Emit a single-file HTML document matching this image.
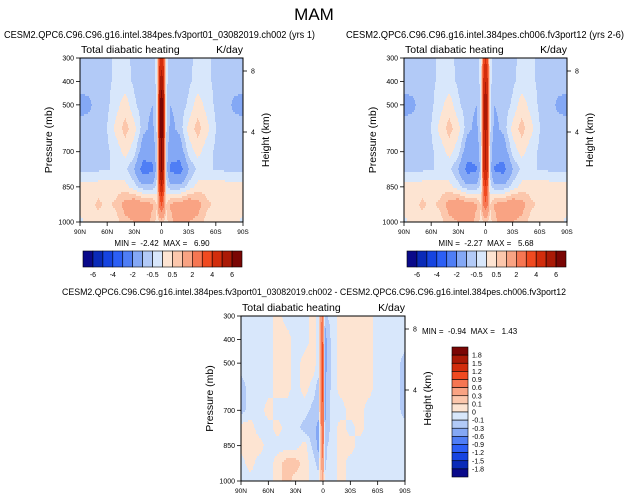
<!DOCTYPE html>
<html><head><meta charset="utf-8"><style>
html,body{margin:0;padding:0;background:#fff}
svg{display:block;font-family:"Liberation Sans",Arial,sans-serif}
</style></head><body>
<svg id="chart" width="628" height="500" viewBox="0 0 628 500" xmlns="http://www.w3.org/2000/svg">
<text x="314" y="20" font-size="17" text-anchor="middle">MAM</text>
</svg>
<script>
const lats=[90,80,70,60,50,40,30,20,10,5,2,0,-2,-5,-10,-20,-30,-40,-50,-60,-70,-80,-90];
const pres=[300,400,500,600,700,775,850,925,1000];
const levelsA=[-6,-5,-4,-3,-2,-1,-0.5,0,0.5,1,2,3,4,5,6];
const levelsB=[-1.8,-1.5,-1.2,-0.9,-0.6,-0.3,-0.1,0,0.1,0.3,0.6,0.9,1.2,1.5,1.8];
const labelsA=["-6","-4","-2","-0.5","0.5","2","4","6"];
const labelsB=["1.8","1.5","1.2","0.9","0.6","0.3","0.1","0","-0.1","-0.3","-0.6","-0.9","-1.2","-1.5","-1.8"];
const colors=["#0a0a8a","#0a2bb8","#1644e0","#2c5ff5","#4f7ef5","#84a8f5","#b2caf7","#d8e7fb","#fde4d2","#fcc7ac","#f9a383","#f67652","#f04a20","#d22d0c","#aa1a06","#7a0604"];
const fieldA=[
[-0.7,-0.7,-0.7,-0.6,-0.4,-0.4,-0.6,-0.7,-0.8,-0.3,4,4.5,4,-0.3,-0.8,-0.7,-0.6,-0.4,-0.4,-0.6,-0.7,-0.7,-0.7],
[-0.8,-0.8,-0.7,-0.6,-0.4,-0.3,-0.6,-0.8,-0.9,-0.3,5,5.5,5,-0.3,-0.9,-0.8,-0.6,-0.3,-0.4,-0.6,-0.7,-0.8,-0.8],
[-1.2,-1.1,-0.8,-0.6,-0.2,0.3,-0.4,-0.8,-1,-0.3,6,6.8,6,-0.3,-1,-0.8,-0.4,0.3,-0.2,-0.6,-0.8,-1.1,-1.2],
[-0.8,-0.8,-0.7,-0.5,0.2,0.7,0.2,-0.8,-1.2,-0.4,5.8,6.5,5.8,-0.4,-1.2,-0.8,0.2,0.7,0.2,-0.5,-0.7,-0.8,-0.8],
[-0.7,-0.7,-0.7,-0.6,-0.3,0.2,-0.3,-1.5,-1.6,-0.5,5.5,6.2,5.5,-0.5,-1.6,-1.5,-0.3,0.2,-0.3,-0.6,-0.7,-0.7,-0.7],
[-0.6,-0.6,-0.6,-0.5,-0.5,-0.4,-1,-2.5,-2.2,-0.6,5.5,6.2,5.5,-0.6,-2.2,-2.5,-1,-0.4,-0.5,-0.5,-0.6,-0.6,-0.6],
[0.3,0.3,0.3,0.3,0.3,0.2,-0.3,-0.8,-0.8,-0.3,4,5,4,-0.3,-0.8,-0.8,-0.3,0.2,0.3,0.3,0.3,0.3,0.3],
[0.3,0.3,0.6,0.4,0.6,1.3,1.6,1.3,1.1,0.5,2.5,3.2,2.5,0.5,1.1,1.3,1.6,1.3,0.6,0.4,0.3,0.3,0.3],
[-0.2,0.3,0.3,0.3,0.3,0.8,1,1.5,0.8,0.3,0.5,0.6,0.5,0.3,0.8,1.5,1,0.8,0.3,0.3,0.3,0.3,-0.2]];
const fieldB=[
[-0.7,-0.7,-0.7,-0.6,-0.4,-0.4,-0.6,-0.7,-0.8,-0.3,3.5,4,3.5,-0.3,-0.8,-0.7,-0.6,-0.4,-0.4,-0.6,-0.7,-0.7,-0.7],
[-0.8,-0.8,-0.7,-0.6,-0.4,-0.3,-0.6,-0.8,-0.9,-0.3,4.5,5,4.5,-0.3,-0.9,-0.8,-0.6,-0.3,-0.4,-0.6,-0.7,-0.8,-0.8],
[-1.2,-1.1,-0.8,-0.6,-0.2,0.3,-0.4,-0.8,-1,-0.3,5,5.6,5,-0.3,-1,-0.8,-0.4,0.3,-0.2,-0.6,-0.8,-1.1,-1.2],
[-0.8,-0.8,-0.7,-0.5,0.2,0.7,0.2,-0.8,-1.2,-0.4,4.8,5.3,4.8,-0.4,-1.2,-0.8,0.2,0.7,0.2,-0.5,-0.7,-0.8,-0.8],
[-0.7,-0.7,-0.7,-0.6,-0.3,0.2,-0.3,-1.5,-1.6,-0.5,4.5,5.1,4.5,-0.5,-1.6,-1.5,-0.3,0.2,-0.3,-0.6,-0.7,-0.7,-0.7],
[-0.6,-0.6,-0.6,-0.5,-0.5,-0.4,-1,-2.4,-2.1,-0.6,4.5,5.1,4.5,-0.6,-2.1,-2.4,-1,-0.4,-0.5,-0.5,-0.6,-0.6,-0.6],
[0.3,0.3,0.3,0.3,0.3,0.2,-0.3,-0.8,-0.8,-0.3,3.2,4,3.2,-0.3,-0.8,-0.8,-0.3,0.2,0.3,0.3,0.3,0.3,0.3],
[0.3,0.3,0.6,0.4,0.6,1.3,1.6,1.3,1.1,0.5,2.2,2.8,2.2,0.5,1.1,1.3,1.6,1.3,0.6,0.4,0.3,0.3,0.3],
[-0.2,0.3,0.3,0.3,0.3,0.8,1,1.5,0.8,0.3,0.5,0.6,0.5,0.3,0.8,1.5,1,0.8,0.3,0.3,0.3,0.3,-0.2]];
const fieldC=[
[-0.05,-0.05,-0.05,-0.05,0.05,-0.05,-0.05,-0.05,0.05,-0.05,0.5,0.9,-0.2,-0.1,-0.05,0.05,0.05,0.05,0.05,-0.05,-0.05,-0.05,-0.05],
[-0.05,-0.05,-0.05,-0.05,0.05,0.05,-0.05,-0.05,0.05,-0.05,0.6,1.0,-0.5,-0.2,-0.05,0.05,0.05,0.05,0.05,-0.05,-0.05,-0.05,-0.05],
[-0.05,-0.05,-0.05,-0.05,0.05,0.05,-0.05,0.05,0.05,-0.05,0.7,1.1,-0.5,-0.2,-0.05,0.05,0.05,0.05,0.05,-0.05,-0.05,-0.05,-0.15],
[-0.15,-0.05,-0.05,-0.05,0.05,0.05,-0.05,0.05,-0.05,-0.15,0.7,1.0,-0.4,-0.2,-0.05,0.05,0.05,0.05,0.05,-0.05,-0.05,-0.05,-0.15],
[-0.15,-0.05,-0.05,0.05,-0.05,-0.05,-0.05,-0.05,-0.15,-0.2,0.6,1.0,-0.4,-0.15,-0.05,-0.05,0.05,0.05,-0.05,-0.05,-0.05,-0.05,-0.15],
[0.05,0.05,-0.05,-0.05,0.05,-0.05,-0.05,-0.15,-0.2,-0.4,0.5,1.0,-0.3,-0.15,-0.05,0.05,-0.05,0.05,-0.05,-0.05,-0.05,-0.05,-0.05],
[0.05,0.05,0.05,-0.05,-0.05,-0.05,-0.05,0.05,-0.15,-0.4,0.5,0.9,-0.2,-0.1,-0.05,0.05,0.05,-0.05,-0.05,-0.05,-0.05,-0.05,-0.05],
[-0.05,0.05,-0.05,-0.05,0.05,0.15,0.15,0.05,-0.05,-0.15,0.3,0.6,-0.15,-0.05,-0.05,0.05,-0.05,-0.05,-0.05,-0.05,-0.05,-0.05,-0.05],
[-0.05,-0.05,-0.05,-0.05,0.05,0.15,0.05,0.05,-0.05,-0.05,0.2,0.3,-0.05,-0.05,-0.05,0.05,-0.05,-0.05,-0.05,-0.05,-0.05,-0.05,-0.05]];

const svg=document.getElementById('chart');
const NS='http://www.w3.org/2000/svg';
function mk(tag,attrs,parent){const e=document.createElementNS(NS,tag);for(const k in attrs)e.setAttribute(k,attrs[k]);(parent||svg).appendChild(e);return e;}
function txt(x,y,s,size,anchor,parent){const t=mk('text',{x:x,y:y,'font-size':size,'text-anchor':anchor||'start'},parent);t.textContent=s;t.setAttribute('xml:space','preserve');t.style.whiteSpace='pre';return t;}
function colorFor(v,levels){let i=0;while(i<levels.length&&v>=levels[i])i++;return colors[i];}
function locate(arr,v,desc){for(let i=0;i<arr.length-1;i++){const a=arr[i],b=arr[i+1];if(desc?(v<=a&&v>=b):(v>=a&&v<=b))return [i,(v-a)/(b-a)];}return [arr.length-2,1];}
function sample(field,lat,p){const [i,fx]=locate(lats,lat,true);const [j,fy]=locate(pres,p,false);
  const a=field[j][i],b=field[j][i+1],c=field[j+1][i],d=field[j+1][i+1];
  return (a*(1-fx)+b*fx)*(1-fy)+(c*(1-fx)+d*fx)*fy;}

function panel(name,x0,y0,w,h,field,levels){
  const g=mk('g',{});
  
  
  const xs=lat=>x0+(90-lat)/180*w;
  const ys=p=>y0+(p-300)/700*h;
  const xinv=x=>90-(x-x0)/w*180;
  const yinv=y=>300+(y-y0)/h*700;
  const sx=1,sy=2;
  for(let y=y0;y<y0+h;y+=sy){
    let runStart=x0,runColor=null;
    for(let x=x0;x<=x0+w;x+=sx){
      const c=x<x0+w?colorFor(sample(field,xinv(x+sx/2),yinv(y+sy/2)),levels):null;
      if(c!==runColor){
        if(runColor){const r=mk('rect',{x:runStart,y:y,width:x-runStart+0.3,height:Math.min(sy,y0+h-y)+0.3,fill:runColor},g);
          
          }
        runStart=x;runColor=c;
      }
    }
  }
  mk('rect',{x:x0,y:y0,width:w,height:h,fill:'none',stroke:'#000','stroke-width':1},g);
  [[300,'300'],[400,'400'],[500,'500'],[700,'700'],[850,'850'],[1000,'1000']].forEach(([p,l])=>{
    mk('line',{x1:x0-4,x2:x0,y1:ys(p),y2:ys(p),stroke:'#000','stroke-width':0.8},g);
    txt(x0-6,ys(p)+2.5,l,7,'end',g);
  });
  [[90,'90N'],[60,'60N'],[30,'30N'],[0,'0'],[-30,'30S'],[-60,'60S'],[-90,'90S']].forEach(([l,s])=>{
    mk('line',{x1:xs(l),x2:xs(l),y1:y0+h,y2:y0+h+4,stroke:'#000','stroke-width':0.8},g);
    txt(xs(l),y0+h+12,s,6.5,'middle',g);
  });
  [[8,y0+13],[4,y0+74]].forEach(([k,y])=>{
    mk('line',{x1:x0+w,x2:x0+w+4,y1:y,y2:y,stroke:'#000','stroke-width':0.8},g);
    txt(x0+w+8,y+2.5,String(k),7,'start',g);
  });
  txt(x0+1,y0-5,'Total diabatic heating',10.5,'start',g);
  txt(x0+w,y0-5,'K/day',10.5,'end',g);
  const yl=txt(0,0,'Pressure (mb)',10.5,'middle',g);yl.setAttribute('transform',`translate(${x0-28},${y0+h/2}) rotate(-90)`);
  const yr=txt(0,0,'Height (km)',10.5,'middle',g);yr.setAttribute('transform',`translate(${x0+w+26},${y0+h/2}) rotate(-90)`);
  return g;
}

function hbar(name,x0,y0,w,h){
  const g=mk('g',{});
  
  
  const bw=w/colors.length;
  colors.forEach((c,i)=>{const r=mk('rect',{x:x0+i*bw,y:y0,width:bw,height:h,fill:c,stroke:'#000','stroke-width':0.6},g);
    });
  labelsA.forEach((s,k)=>txt(x0+(2*k+1)*bw,y0+h+10,s,7,'middle',g));
}
function vbar(name,x0,y0,w,h){
  const g=mk('g',{});
  
  
  const bh=h/colors.length;
  colors.slice().reverse().forEach((c,i)=>{const r=mk('rect',{x:x0,y:y0+i*bh,width:w,height:bh,fill:c,stroke:'#000','stroke-width':0.6},g);
    });
  labelsB.forEach((s,k)=>txt(x0+w+4,y0+(k+1)*bh+2.5,s,7,'start',g));
}

let t;
t=txt(4,38,'CESM2.QPC6.C96.C96.g16.intel.384pes.fv3port01_03082019.ch002 (yrs 1)',10,'start');
t.setAttribute('textLength','311');t.setAttribute('lengthAdjust','spacingAndGlyphs');

t=txt(346,38,'CESM2.QPC6.C96.C96.g16.intel.384pes.ch006.fv3port12 (yrs 2-6)',10,'start');
t.setAttribute('textLength','278');t.setAttribute('lengthAdjust','spacingAndGlyphs');

t=txt(314,295,'CESM2.QPC6.C96.C96.g16.intel.384pes.fv3port01_03082019.ch002 - CESM2.QPC6.C96.C96.g16.intel.384pes.ch006.fv3port12',9.5,'middle');
t.setAttribute('textLength','504');t.setAttribute('lengthAdjust','spacingAndGlyphs');


panel('panel1-contour',80,58,163,164,fieldA,levelsA);
panel('panel2-contour',404,58,163,164,fieldB,levelsA);
panel('panel3-contour',241,316,164,165,fieldC,levelsB);

t=txt(162,246,'MIN =  -2.42  MAX =   6.90',8,'middle');
t=txt(486,246,'MIN =  -2.27  MAX =   5.68',8,'middle');
t=txt(422,334,'MIN =  -0.94  MAX =   1.43',8,'start');

hbar('colorbar-1',83,251,159,16);
hbar('colorbar-2',407,251,159,16);
vbar('colorbar-3',452,347,16,130);
</script>
</body></html>
